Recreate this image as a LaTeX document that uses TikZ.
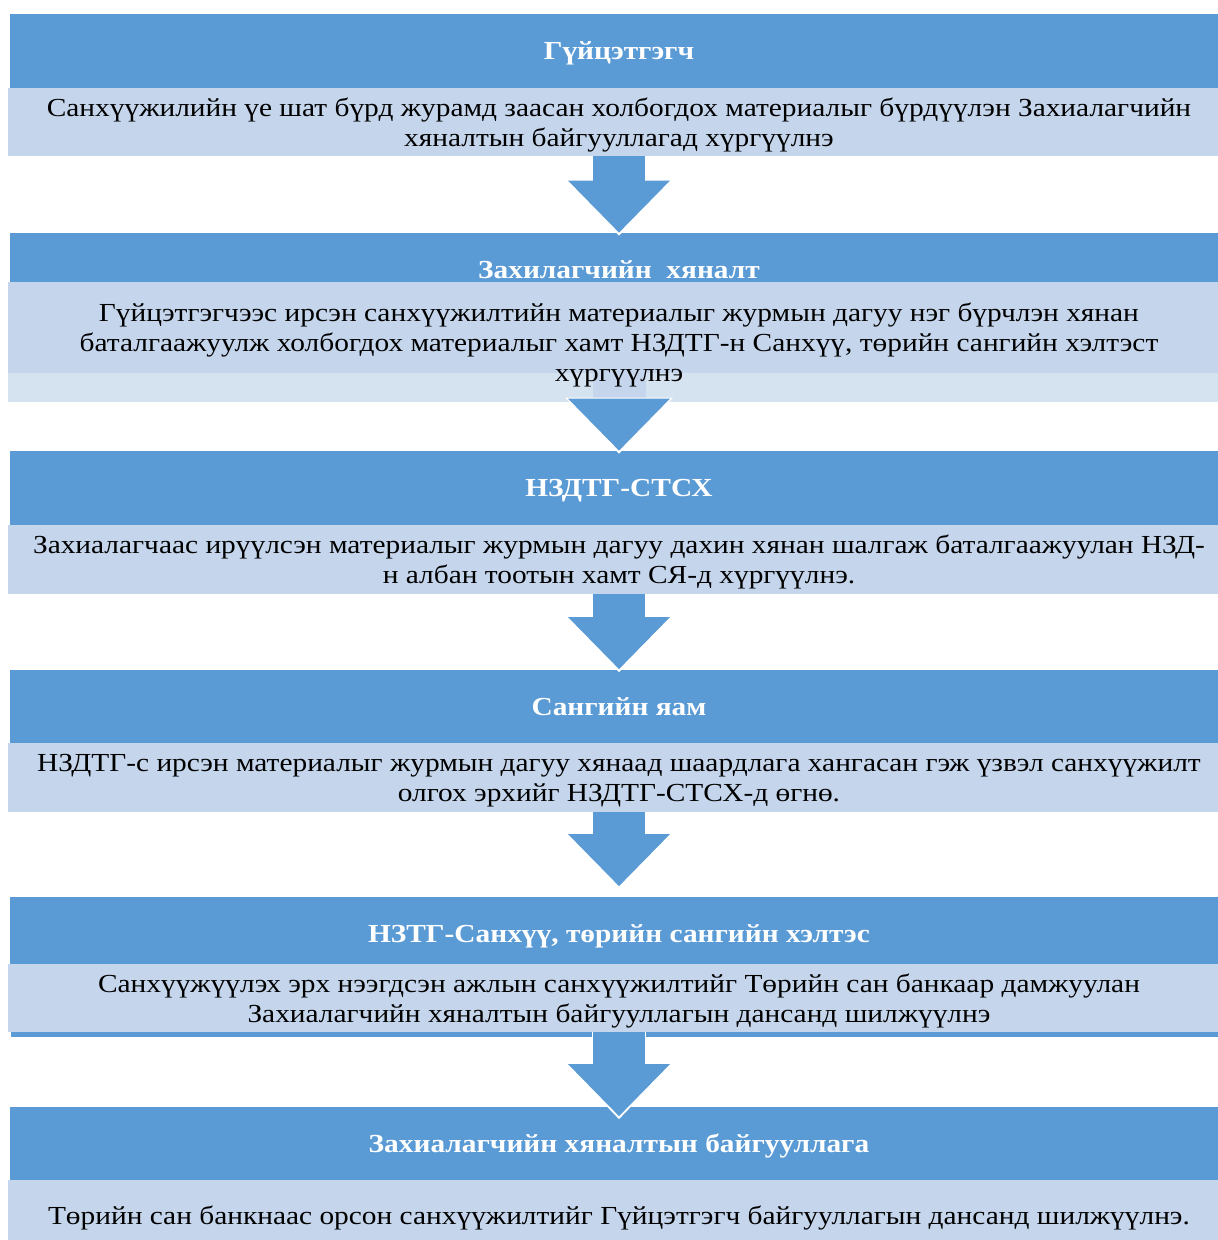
\documentclass[tikz,border=0pt]{standalone}
\usepackage{fontspec}
\setmainfont{Liberation Serif}[FakeStretch=1.13]
\usepackage{xcolor}
\usetikzlibrary{positioning,arrows.meta,calc}
\definecolor{hdrblue}{RGB}{91,155,213}
\definecolor{bodyblue}{RGB}{197,214,236}
\definecolor{striplight}{RGB}{213,226,240}

\begin{document}
\begin{tikzpicture}[
          x=0.5pt, y=-0.5pt,
          hdr/.style={fill=hdrblue, text=white, font=\fontsize{13}{15}\selectfont\bfseries,
                      minimum width=609pt, minimum height=37pt, inner sep=0pt, text depth=0pt},
          txt/.style={font=\fontsize{13}{15}\selectfont, align=center,
                      minimum width=611pt, inner sep=0pt, text depth=0pt},
          txtbox/.style={txt, fill=bodyblue},
          flow/.style={draw=hdrblue, line width=26pt,
                       -{Triangle[width=51pt,length=26pt,line width=0pt]}},
          flowedge/.style={draw=white, line width=27pt,
                       -{Triangle[width=54pt,length=28pt,line width=0pt]}}
      ]
        \useasboundingbox (0,0) rectangle (1217,1240);
        \node[hdr] (h1) at (619,51) {Гүйцэтгэгч};
        \node[txtbox, minimum height=34pt] (b1) at (619,122) {Санхүүжилийн үе шат бүрд журамд заасан холбогдох материалыг бүрдүүлэн Захиалагчийн\\хяналтын байгууллагад хүргүүлнэ};
        \node[hdr] (h2) at (619,270) {Захилагчийн~ хяналт};
        \fill[bodyblue] (8,282) rectangle (1230,373);
        \fill[striplight] (8,373) rectangle (1230,402);
        \fill[bodyblue] (593,373) rectangle (646,398);
        \node[txt, minimum height=60pt] (b2) at (619,342) {Гүйцэтгэгчээс ирсэн санхүүжилтийн материалыг журмын дагуу нэг бүрчлэн хянан\\баталгаажуулж холбогдох материалыг хамт НЗДТГ-н Санхүү, төрийн сангийн хэлтэст\\хүргүүлнэ};
        \node[hdr] (h3) at (619,488) {НЗДТГ-СТСХ};
        \node[txtbox, minimum height=34.5pt] (b3) at (619,559.5) {Захиалагчаас ирүүлсэн материалыг журмын дагуу дахин хянан шалгаж баталгаажуулан НЗД-\\н албан тоотын хамт СЯ-д хүргүүлнэ.};
        \node[hdr] (h4) at (619,706.5) {Сангийн яам};
        \node[txtbox, minimum height=34.5pt] (b4) at (619,777.5) {НЗДТГ-с ирсэн материалыг журмын дагуу хянаад шаардлага хангасан гэж үзвэл санхүүжилт\\олгох эрхийг НЗДТГ-СТСХ-д өгнө.};
        \fill[hdrblue] (11,1030) rectangle (1228,1037);
        \node[hdr] (h5) at (619,933.5) {НЗТГ-Санхүү, төрийн сангийн хэлтэс};
        \node[txtbox, minimum height=34pt] (b5) at (619,998) {Санхүүжүүлэх эрх нээгдсэн ажлын санхүүжилтийг Төрийн сан банкаар дамжуулан\\Захиалагчийн хяналтын байгууллагын дансанд шилжүүлнэ};
        \node[hdr] (h6) at (619,1143.5) {Захиалагчийн хяналтын байгууллага};
        \node[txtbox, minimum height=35pt] (b6) at (619,1215) {Төрийн сан банкнаас орсон санхүүжилтийг Гүйцэтгэгч байгууллагын дансанд шилжүүлнэ.};
        \draw[flowedge, shorten >=-1.5pt] (b1.south) -- (h2.north);
        \draw[flow] (b1.south) -- (h2.north);
        \draw[flowedge, shorten >=-1.5pt] (b2.south) -- (h3.north);
        \draw[flow] (b2.south) -- (h3.north);
        \draw[flowedge, shorten >=-1.5pt] (b3.south) -- (h4.north);
        \draw[flow] (b3.south) -- (h4.north);
        \draw[flowedge, shorten >=3.5pt] (b4.south) -- (h5.north);
        \draw[flow, shorten >=5pt] (b4.south) -- (h5.north);
        \draw[flowedge, shorten >=-6.5pt] (b5.south) -- (h6.north);
        \draw[flow, shorten >=-5pt] (b5.south) -- (h6.north);
      \end{tikzpicture}
\end{document}
